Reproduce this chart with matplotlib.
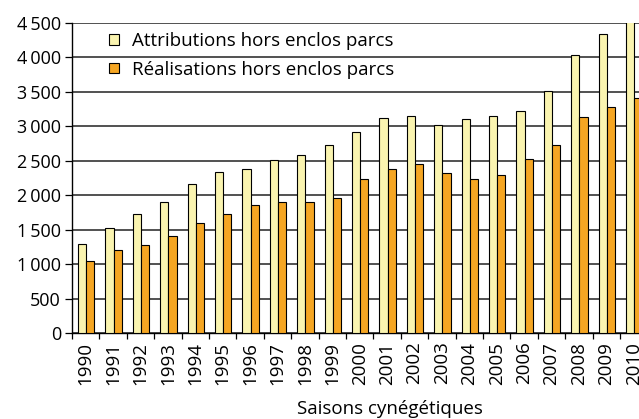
import matplotlib.pyplot as plt
from matplotlib.patches import Patch
from matplotlib.ticker import FuncFormatter, FixedLocator
import numpy as np

# saisons cynegetiques
saisons = [str(a) for a in range(1990, 2011)]
attributions = [1290, 1522, 1729, 1903, 2159, 2342, 2376, 2507, 2579, 2733,
                2913, 3115, 3144, 3023, 3101, 3144, 3226, 3516, 4028, 4337, 4535]
realisations = [1048, 1207, 1275, 1415, 1603, 1724, 1855, 1903, 1903, 1965,
                2231, 2376, 2458, 2318, 2231, 2299, 2521, 2724, 3130, 3275, 3405]

plt.rcParams['font.family'] = ['Open Sans', 'DejaVu Sans']
fs = 13.5

fig = plt.figure(figsize=(6.39, 4.19), dpi=100)
# the plot area runs past the right edge of the picture, like the original
ax = fig.add_axes([72 / 639, 85.7 / 419, 575.4 / 639, 310.6 / 419])

x = np.arange(len(saisons))
w = 0.30
ax.bar(x + 0.37, attributions, w, color='#FAF4B0', edgecolor='black',
       linewidth=0.8, zorder=3)
ax.bar(x + 0.67, realisations, w, color='#F5A623', edgecolor='black',
       linewidth=0.8, zorder=3)

ax.set_xlim(0, len(saisons))
ax.set_ylim(0, 4500)
ax.set_yticks(np.arange(0, 4501, 500))
# thin space as thousands separator
ax.yaxis.set_major_formatter(FuncFormatter(lambda v, p: f"{int(v):,}".replace(",", "\u2009")))
ax.grid(axis='y', color='#333333', linewidth=1.2, zorder=0)

ax.xaxis.set_major_locator(FixedLocator(np.arange(0, len(saisons) + 1)))
ax.xaxis.set_major_formatter(FuncFormatter(lambda v, p: ""))
ax.set_xticks(x + 0.5, minor=True)
ax.set_xticklabels(saisons, minor=True, rotation=90, fontsize=fs)
ax.tick_params(axis='x', which='minor', length=0, pad=6)
ax.tick_params(axis='x', which='major', length=4, width=0.9)
ax.tick_params(axis='y', length=5, width=0.9, labelsize=13, pad=3)

for s in ['top', 'right']:
    ax.spines[s].set_visible(False)
ax.spines['left'].set_linewidth(1)
ax.spines['bottom'].set_linewidth(1)

fig.text(390 / 639, 1 / 419, "Saisons cynégétiques", ha='center', va='bottom',
         fontsize=fs)

handles = [Patch(facecolor='#FAF4B0', edgecolor='black', linewidth=0.8),
           Patch(facecolor='#F5A623', edgecolor='black', linewidth=0.8)]
fig.legend(handles, ["Attributions hors enclos parcs", "Réalisations hors enclos parcs"],
           loc='upper left', bbox_to_anchor=(100 / 639, 1 - 23 / 419),
           frameon=False, fontsize=fs, handlelength=0.5, handleheight=0.5,
           handletextpad=0.7, labelspacing=0.55, borderpad=0)

fig.savefig('out.png', dpi=100)
